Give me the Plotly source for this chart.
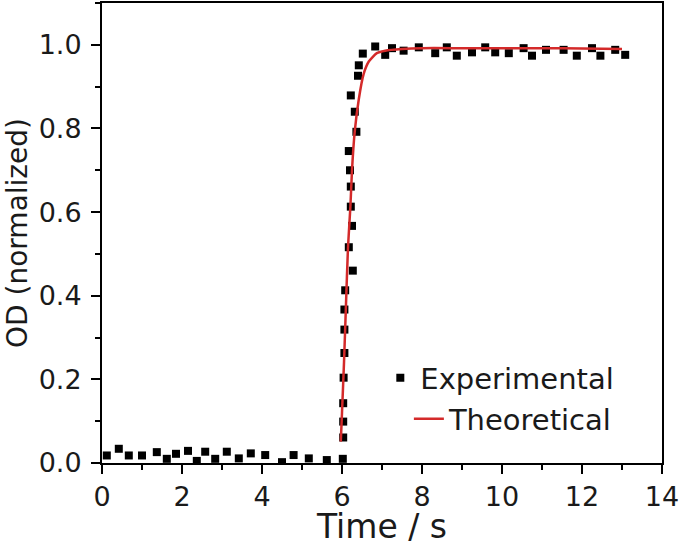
import plotly.graph_objects as go

# Experimental data (time in s, normalized OD)
exp_time = [0.12, 0.42, 0.67, 1.0, 1.37, 1.62, 1.85, 2.15, 2.37, 2.58, 2.83, 3.12, 3.42, 3.72,
            4.08, 4.5, 4.79, 5.17, 5.62, 6.02,
            6.03, 6.03, 6.03, 6.04, 6.06, 6.06, 6.06, 6.08, 6.27, 6.17, 6.25, 6.22, 6.22, 6.2,
            6.17, 6.36, 6.32, 6.22, 6.40, 6.42, 6.52, 6.83, 7.08, 7.25, 7.54, 7.92, 8.33,
            8.62, 8.87, 9.25, 9.58, 9.83, 10.17, 10.54, 10.75, 11.1, 11.54, 11.87, 12.25,
            12.46, 12.83, 13.08]
exp_od = [0.018, 0.034, 0.018, 0.018, 0.026, 0.01, 0.022, 0.029, 0.005, 0.027, 0.01, 0.027, 0.011, 0.023,
          0.019, 0.002, 0.019, 0.011, 0.007, 0.01,
          0.061, 0.099, 0.143, 0.204, 0.263, 0.319, 0.367, 0.413, 0.46, 0.516, 0.567, 0.613, 0.661, 0.70,
          0.746, 0.792, 0.84, 0.879, 0.926, 0.951, 0.979, 0.996, 0.976, 0.992, 0.986, 0.994, 0.98,
          0.994, 0.974, 0.982, 0.994, 0.982, 0.98, 0.992, 0.974, 0.988, 0.988, 0.974, 0.992,
          0.974, 0.988, 0.976]

# Theoretical curve
theo_time = [5.97, 6.0, 6.05, 6.1, 6.15, 6.21, 6.25, 6.32, 6.42, 6.54, 6.67, 6.87, 7.08,
             7.5, 8.0, 9.0, 10.0, 11.0, 12.0, 13.0]
theo_od = [0.051, 0.12, 0.24, 0.38, 0.516, 0.613, 0.70, 0.794, 0.87, 0.93, 0.96, 0.98, 0.986,
           0.99, 0.992, 0.992, 0.992, 0.992, 0.991, 0.99]

x_ticks = [0, 2, 4, 6, 8, 10, 12, 14]
y_ticks = [0.0, 0.2, 0.4, 0.6, 0.8, 1.0]

font_family = "DejaVu Sans, Arial, sans-serif"
text_color = "#1a1a1a"

fig = go.Figure()
fig.add_trace(go.Scatter(
    x=exp_time, y=exp_od, mode="markers", name="Experimental",
    marker=dict(symbol="square", size=8, color="black", line=dict(width=0)),
    legend="legend",
))
fig.add_trace(go.Scatter(
    x=theo_time, y=theo_od, mode="lines", name="Theoretical",
    line=dict(color="#d42a2a", width=2.5, shape="spline", smoothing=0.6),
    legend="legend2",
))

axis_common = dict(
    showline=True, linecolor="black", linewidth=2, mirror=True,
    ticks="outside", ticklen=9, tickwidth=2, tickcolor="black",
    showgrid=False, zeroline=False, automargin=False,
    tickfont=dict(size=27, color=text_color, family=font_family),
)

fig.update_layout(
    width=685, height=546,
    margin=dict(l=102, r=23, t=3, b=83),
    paper_bgcolor="white", plot_bgcolor="white",
    font=dict(family=font_family, color=text_color),
    xaxis=dict(
        range=[0, 14], tickvals=x_ticks,
        minor=dict(ticks="outside", ticklen=5, tickwidth=2, tickcolor="black", dtick=1),
        title=dict(text="Time / s", font=dict(size=33, color=text_color), standoff=5),
        **axis_common,
    ),
    yaxis=dict(
        range=[0, 1.1], tickvals=y_ticks, tickformat=".1f", ticklabelstandoff=4,
        minor=dict(ticks="outside", ticklen=5, tickwidth=2, tickcolor="black", dtick=0.1),
        title=dict(text="OD (normalized)", font=dict(size=28, color=text_color), standoff=3),
        **axis_common,
    ),
    legend=dict(x=0.497, y=0.185, xanchor="left", yanchor="middle",
                bgcolor="rgba(0,0,0,0)", font=dict(size=29, color=text_color)),
    legend2=dict(x=0.548, y=0.096, xanchor="left", yanchor="middle",
                 bgcolor="rgba(0,0,0,0)", font=dict(size=29, color=text_color)),
    showlegend=True,
)

fig.write_html("out.html", config={"displayModeBar": False},
               post_script="document.body.style.margin='0';")
